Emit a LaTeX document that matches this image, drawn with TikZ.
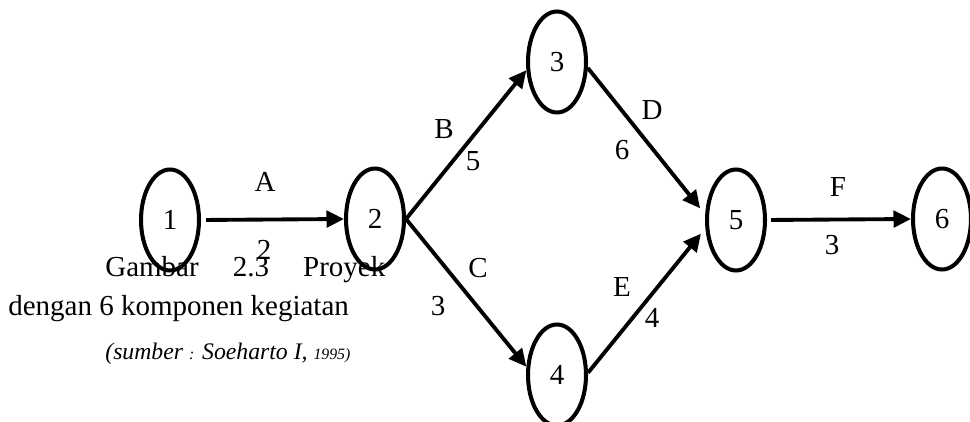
\documentclass[tikz,border=0pt]{standalone}
\usepackage{fontspec}
\setmainfont{Liberation Serif}
\usetikzlibrary{arrows.meta,shapes.geometric}
\tikzset{
  event/.style={ellipse, draw, line width=2.3pt, inner sep=0pt,
                minimum width=1.16cm, minimum height=2.02cm},
  act/.style={-{Triangle[length=3.5mm,width=3.3mm]}, line width=2.2pt},
  tag/.style={inner sep=0pt},
  capline/.style={inner sep=0pt, anchor=base west},
}

\begin{document}
\begin{tikzpicture}[x=0.02cm, y=-0.02cm, every node/.style={font=\fontsize{16.5}{20}\selectfont}]
  \useasboundingbox (0,0) rectangle (970,422);
  % events
  \node[event] (e1) at (170,220) {1};
  \node[event] (e2) at (375,219) {2};
  \node[event] (e3) at (557,62) {3};
  \node[event] (e4) at (557,375) {4};
  \node[event] (e5) at (736,220) {5};
  \node[event] (e6) at (942,219) {6};
  % activities
  \draw[act, shorten <=0.1cm] (e1.east) -- (e2.west);
  \draw[act] (e2.east) -- (e3.195);
  \draw[act] (e2.east) -- (e4.165);
  \draw[act, shorten >=0.16cm] (e3.349) -- (e5.170);
  \draw[act, shorten >=0.14cm] (e4.4) -- (e5.195);
  \draw[act, shorten <=0.08cm] (e5.east) -- (e6.west);
  % names and durations
  \node[tag] (nA) at (265,182) {A};
  \node[tag] (dA) at (264,250) {2};
  \node[tag] (nB) at (444,129) {B};
  \node[tag] (dB) at (473,161) {5};
  \node[tag] (nC) at (478,268) {C};
  \node[tag] (dC) at (438,306) {3};
  \node[tag] (nD) at (652,110) {D};
  \node[tag] (dD) at (622,150) {6};
  \node[tag] (nE) at (622,287) {E};
  \node[tag] (dE) at (652,318) {4};
  \node[tag] (nF) at (838,187) {F};
  \node[tag] (dF) at (832,245) {3};
  % caption
  \node[capline] (cap1) at (105,276) {\makebox[5.6cm][s]{Gambar 2.3 Proyek}};
  \node[capline] (cap2) at (8,315) {dengan 6 komponen kegiatan};
  \node[capline, font=\fontsize{13.5}{16}\selectfont\itshape] (src) at (105,359)
    {(sumber {\fontsize{9}{10}\selectfont :} Soeharto I, {\fontsize{9}{10}\selectfont 1995)}};
\end{tikzpicture}
\end{document}
